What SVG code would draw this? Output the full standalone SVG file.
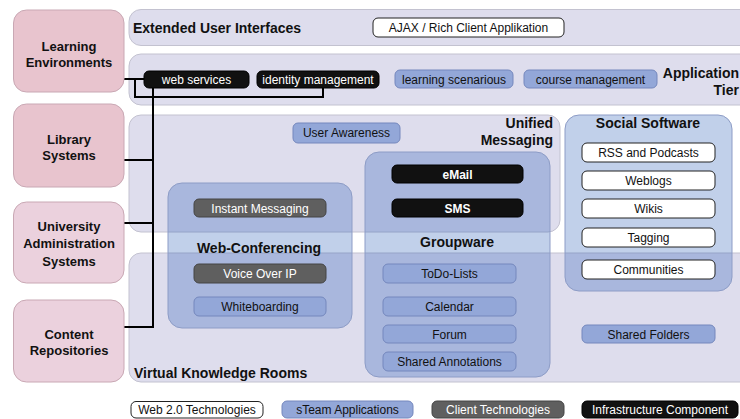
<svg xmlns="http://www.w3.org/2000/svg" width="740" height="419" viewBox="0 0 740 419">
<style>
text{font-family:"Liberation Sans",Arial,sans-serif;fill:#111}
.band{fill:#dedded;stroke:#c3c2d0;stroke-width:1}
.pink{fill:#e8c4ce;stroke:#c9a8b4;stroke-width:1}
.pink2{fill:#ebd1dd;stroke:#c9a8b4;stroke-width:1}
.cont{fill:#1f55b4;fill-opacity:0.28;stroke:#8d9cc6;stroke-width:1}
.pb{fill:#93a7d8;stroke:#7487bd;stroke-width:1}
.pw{fill:#fff;stroke:#222;stroke-width:1}
.pg{fill:#5f5f5f;stroke:#444;stroke-width:1}
.pk{fill:#111;stroke:#000;stroke-width:1}
.pt{font-size:12px;text-anchor:middle}
.wt{fill:#fff}
.lbl{font-size:14px;font-weight:bold}
.nl{font-size:13px;font-weight:bold;text-anchor:middle}
.conn{fill:none;stroke:#000;stroke-width:2}
</style>

<g id="layers">
  <rect class="band" x="129" y="9.5" width="640" height="36" rx="12"/>
  <rect class="band" x="129" y="54" width="640" height="51" rx="12"/>
  <rect class="band" x="129" y="115" width="431" height="117" rx="12"/>
  <rect class="band" x="129" y="253" width="640" height="129" rx="12"/>
  <text class="lbl" x="133" y="33">Extended User Interfaces</text>
  <text class="lbl" x="739" y="78" text-anchor="end">Application</text>
  <text class="lbl" x="739" y="95" text-anchor="end">Tier</text>
  <text class="lbl" x="553" y="128" text-anchor="end">Unified</text>
  <text class="lbl" x="553" y="145" text-anchor="end">Messaging</text>
  <text class="lbl" x="134" y="378">Virtual Knowledge Rooms</text>
</g>

<g id="web-conferencing">
  <rect class="cont" x="168" y="183" width="184" height="145" rx="14"/>
  <text class="lbl" x="259" y="253" text-anchor="middle">Web-Conferencing</text>
</g>
<g id="groupware">
  <rect class="cont" x="365" y="152" width="185" height="225" rx="14"/>
  <text class="lbl" x="457" y="247" text-anchor="middle">Groupware</text>
</g>
<g id="social-software">
  <rect class="cont" x="565" y="115" width="167" height="176" rx="14"/>
  <text class="lbl" x="648" y="128" text-anchor="middle">Social Software</text>
</g>

<g id="connectors">
  <path class="conn" d="M124,79 H144"/>
  <path class="conn" d="M135,79 V97 H323 V88"/>
  <path class="conn" d="M153,88 V327 H124"/>
  <path class="conn" d="M124,160 H153"/>
  <path class="conn" d="M124,223 H153"/>
</g>

<g id="learning-environments">
  <rect class="pink" x="13.5" y="10" width="110.5" height="82" rx="13"/>
  <text class="nl" x="69" y="50.5">Learning</text>
  <text class="nl" x="69" y="67">Environments</text>
</g>
<g id="library-systems">
  <rect class="pink" x="13.5" y="104" width="110.5" height="83" rx="13"/>
  <text class="nl" x="69" y="143.5">Library</text>
  <text class="nl" x="69" y="160">Systems</text>
</g>
<g id="university-administration">
  <rect class="pink2" x="13.5" y="202" width="110.5" height="81" rx="13"/>
  <text class="nl" x="69" y="231">University</text>
  <text class="nl" x="69" y="248">Administration</text>
  <text class="nl" x="69" y="265.5">Systems</text>
</g>
<g id="content-repositories">
  <rect class="pink2" x="13.5" y="300" width="110.5" height="82" rx="13"/>
  <text class="nl" x="69" y="338.5">Content</text>
  <text class="nl" x="69" y="355">Repositories</text>
</g>

<g id="ajax">
  <rect class="pw" x="373" y="18" width="191" height="19" rx="5"/>
  <text class="pt" x="468.5" y="32">AJAX / Rich Client Applikation</text>
</g>
<g id="web-services">
  <rect class="pk" x="144" y="71" width="105" height="17" rx="5"/>
  <text class="pt wt" x="196.5" y="84">web services</text>
</g>
<g id="identity-management">
  <rect class="pk" x="257" y="71" width="122" height="17" rx="5"/>
  <text class="pt wt" x="318" y="84">identity management</text>
</g>
<g id="learning-scenarious">
  <rect class="pb" x="395" y="70" width="118" height="18" rx="5"/>
  <text class="pt" x="454" y="83.5">learning scenarious</text>
</g>
<g id="course-management">
  <rect class="pb" x="524" y="70" width="133" height="18" rx="5"/>
  <text class="pt" x="590.5" y="83.5">course management</text>
</g>
<g id="user-awareness">
  <rect class="pb" x="293" y="123" width="107" height="20" rx="5"/>
  <text class="pt" x="346.5" y="137">User Awareness</text>
</g>
<g id="email">
  <rect class="pk" x="392" y="165" width="131" height="18" rx="5"/>
  <text class="pt wt" x="457.5" y="178.5" font-weight="bold">eMail</text>
</g>
<g id="sms">
  <rect class="pk" x="392" y="199" width="131" height="18" rx="5"/>
  <text class="pt wt" x="457.5" y="212.5" font-weight="bold">SMS</text>
</g>
<g id="instant-messaging">
  <rect class="pg" x="194" y="199" width="132" height="18" rx="5"/>
  <text class="pt wt" x="260" y="212.5">Instant Messaging</text>
</g>
<g id="voice-over-ip">
  <rect class="pg" x="194" y="264" width="132" height="19" rx="5"/>
  <text class="pt wt" x="260" y="278">Voice Over IP</text>
</g>
<g id="whiteboarding">
  <rect class="pb" x="194" y="297" width="132" height="19" rx="5"/>
  <text class="pt" x="260" y="311">Whiteboarding</text>
</g>
<g id="todo-lists">
  <rect class="pb" x="383" y="264" width="133" height="19" rx="5"/>
  <text class="pt" x="449.5" y="278">ToDo-Lists</text>
</g>
<g id="calendar">
  <rect class="pb" x="383" y="297" width="133" height="19" rx="5"/>
  <text class="pt" x="449.5" y="311">Calendar</text>
</g>
<g id="forum">
  <rect class="pb" x="383" y="325" width="133" height="18" rx="5"/>
  <text class="pt" x="449.5" y="338.5">Forum</text>
</g>
<g id="shared-annotations">
  <rect class="pb" x="383" y="352" width="133" height="19" rx="5"/>
  <text class="pt" x="449.5" y="366">Shared Annotations</text>
</g>
<g id="rss">
  <rect class="pw" x="582" y="143" width="133" height="19" rx="5"/>
  <text class="pt" x="648.5" y="157">RSS and Podcasts</text>
</g>
<g id="weblogs">
  <rect class="pw" x="582" y="171" width="133" height="19" rx="5"/>
  <text class="pt" x="648.5" y="185">Weblogs</text>
</g>
<g id="wikis">
  <rect class="pw" x="582" y="199" width="133" height="19" rx="5"/>
  <text class="pt" x="648.5" y="213">Wikis</text>
</g>
<g id="tagging">
  <rect class="pw" x="582" y="228" width="133" height="19" rx="5"/>
  <text class="pt" x="648.5" y="242">Tagging</text>
</g>
<g id="communities">
  <rect class="pw" x="582" y="260" width="133" height="19" rx="5"/>
  <text class="pt" x="648.5" y="274">Communities</text>
</g>
<g id="shared-folders">
  <rect class="pb" x="582" y="325" width="133" height="18" rx="5"/>
  <text class="pt" x="648.5" y="338.5">Shared Folders</text>
</g>

<g id="legend">
  <rect class="pw" x="131" y="401.5" width="132" height="16.5" rx="5"/>
  <text class="pt" x="197" y="414">Web 2.0 Technologies</text>
  <rect class="pb" x="282" y="401" width="131" height="17" rx="5"/>
  <text class="pt" x="347.5" y="414">sTeam Applications</text>
  <rect class="pg" x="432" y="401" width="132" height="17" rx="5"/>
  <text class="pt wt" x="498" y="414">Client Technologies</text>
  <rect class="pk" x="582" y="401" width="156" height="17" rx="5"/>
  <text class="pt wt" x="660" y="414">Infrastructure Component</text>
</g>
</svg>
